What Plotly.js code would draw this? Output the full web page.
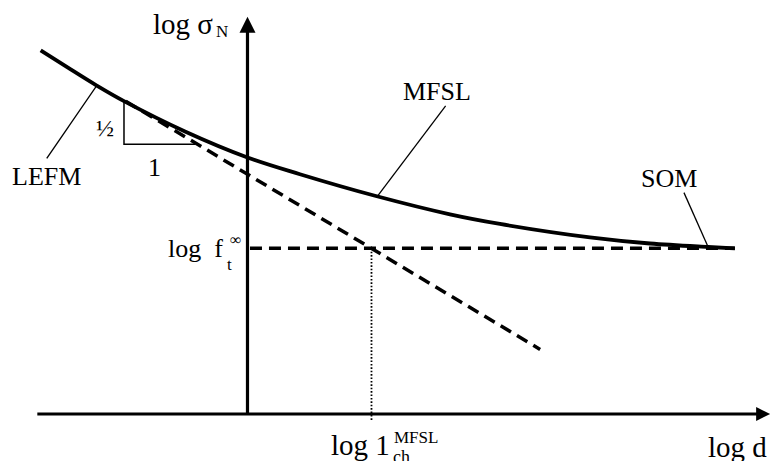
<!DOCTYPE html>
<html><head><meta charset="utf-8">
<script src="https://cdn.plot.ly/plotly-3.0.1.min.js"></script>
<style>html,body{margin:0;padding:0;background:#fff}</style>
</head><body><div id="chart" style="width:771px;height:461px"></div>
<script>
// MFSL curve: log(sigma_N) vs log(d) (schematic units)
const mfslLogD     = [-1.668, -1.448, -1.216, -0.996, -0.504, 0.0, 0.423, 1.028, 1.633, 2.036, 2.762, 3.246, 3.714, 3.931];
const mfslLogSigma = [ 2.195,  2.090,  1.982,  1.888,  1.705, 1.548, 1.447, 1.317, 1.205, 1.147, 1.066, 1.029, 1.008, 1.000];
// LEFM asymptote (slope -1/2)
const lefmLogD     = [-0.982, 2.36];
const lefmLogSigma = [1.887, 0.39];
// Strength asymptote log f_t^inf and characteristic length log l_ch
const logFt  = 1.0;
const logLch = 1.0;
const ftLogD = [0.02, 3.93];
// axes extents
const xAxisLogD = [-1.695, 4.14];
const yAxisLogSigma = [0.0, 2.32];
// slope triangle
const triLogD  = [-0.996, -0.996, -0.423];
const triLogSigma = [1.888, 1.628, 1.628];
// leader lines [label end, curve end]
const leaderMFSL = {x: [1.598, 1.044], y: [1.859, 1.31]};
const leaderSOM  = {x: [3.520, 3.714], y: [1.336, 1.010]};
const leaderLEFM = {x: [-1.619, -1.216], y: [1.543, 1.982]};

const K = 'black';
const FONT = 'Liberation Serif, Times New Roman, serif';

const traces = [
  {x: xAxisLogD, y: [0, 0], mode: 'lines', line: {color: K, width: 3.2}},
  {x: [0, 0], y: yAxisLogSigma, mode: 'lines', line: {color: K, width: 3.2}},
  {x: [4.215], y: [0], mode: 'markers', cliponaxis: false,
   marker: {symbol: 'arrow-right', size: 14, color: K, line: {width: 0}}},
  {x: [0], y: [2.398], mode: 'markers', cliponaxis: false,
   marker: {symbol: 'arrow-up', size: 16, color: K, line: {width: 0}}},
  {x: ftLogD, y: [logFt, logFt], mode: 'lines', line: {color: K, width: 3.5, dash: '12px,7px'}},
  {x: lefmLogD, y: lefmLogSigma, mode: 'lines', line: {color: K, width: 3.5, dash: '12px,7px'}},
  {x: [logLch, logLch], y: [logFt, -0.036], mode: 'lines', line: {color: K, width: 1.8, dash: '1.6px,1.8px'}},
  {x: triLogD, y: triLogSigma, mode: 'lines', line: {color: K, width: 1.5}},
  {x: leaderMFSL.x, y: leaderMFSL.y, mode: 'lines', line: {color: K, width: 1.3}},
  {x: leaderSOM.x, y: leaderSOM.y, mode: 'lines', line: {color: K, width: 1.3}},
  {x: leaderLEFM.x, y: leaderLEFM.y, mode: 'lines', line: {color: K, width: 1.3}},
  {x: mfslLogD, y: mfslLogSigma, mode: 'lines', line: {color: K, width: 3.8, shape: 'spline', smoothing: 1}}
];

function ann(text, x, y, size, xa, ya) {
  return {text: text, x: x, y: y, xref: 'x', yref: 'y', showarrow: false,
          xanchor: xa || 'center', yanchor: ya || 'middle',
          font: {family: FONT, size: size, color: K}};
}

const annotations = [
  ann('log σ', -0.262, 2.354, 29, 'right'),
  ann('N', -0.206, 2.31, 17),
  ann('MFSL', 1.526, 1.945, 26),
  ann('SOM', 3.399, 1.424, 26),
  ann('LEFM', -1.617, 1.432, 26),
  ann('½', -1.149, 1.726, 24),
  ann('1', -0.754, 1.485, 26),
  ann('log  f', -0.655, 1.0, 26, 'left'),
  ann('∞', -0.097, 1.056, 16),
  ann('t', -0.145, 0.905, 17),
  ann('log 1', 0.657, -0.187, 29, 'left'),
  ann('MFSL', 1.355, -0.139, 17),
  ann('ch', 1.238, -0.262, 18),
  ann('log d', 4.205, -0.199, 29, 'right')
];

const layout = {
  width: 771, height: 461,
  margin: {l: 0, r: 0, t: 0, b: 0, pad: 0},
  paper_bgcolor: 'white', plot_bgcolor: 'white',
  showlegend: false,
  xaxis: {visible: false, range: [-1.996, 4.222], fixedrange: true},
  yaxis: {visible: false, range: [-0.2836, 2.4985], fixedrange: true},
  annotations: annotations
};

Plotly.newPlot('chart', traces, layout, {staticPlot: true});
</script></body></html>
